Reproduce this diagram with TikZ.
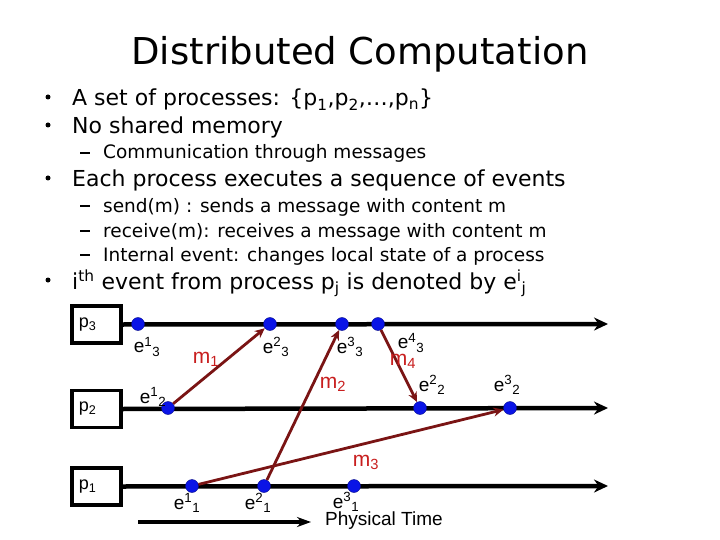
\documentclass[tikz,border=0pt]{standalone}
\usepackage{fontspec}
\setmainfont{Liberation Sans}
\newfontfamily\bodyfont{DejaVu Sans}
\usetikzlibrary{arrows.meta}
\definecolor{msg}{HTML}{7A1414}
\definecolor{msglabel}{HTML}{C81E1E}
\definecolor{dotblue}{HTML}{0A14E6}
\begin{document}
\begin{tikzpicture}[x=1pt,y=-1pt,
  procbox/.style={draw,line width=3.5pt,minimum width=49pt,minimum height=37pt,inner sep=0pt},
  procname/.style={font=\fontsize{18}{18}\selectfont,anchor=west},
  timeline/.style={line width=4.5pt,-{Stealth[length=14pt,width=13pt]}},
  ev/.style={circle,fill=dotblue,draw=dotblue!60!black,minimum size=13pt,inner sep=0pt},
  evlabel/.style={font=\fontsize{19}{19}\selectfont,inner sep=0pt},
  message/.style={draw=msg,line width=2.8pt,-{Stealth[length=10pt,width=9pt]}},
  mlabel/.style={text=msglabel,font=\fontsize{21}{21}\selectfont,inner sep=0pt},
  bdot/.style={circle,fill=black,minimum size=5pt,inner sep=0pt},
  sdash/.style={fill=black,minimum width=10pt,minimum height=1.6pt,inner sep=0pt},
  bullet/.style={anchor=base west,inner sep=0pt,font=\bodyfont\fontsize{22}{22}\selectfont},
  subbullet/.style={anchor=base west,inner sep=0pt,font=\bodyfont\fontsize{18.5}{18.5}\selectfont}]
\useasboundingbox (0,0) rectangle (720,540);
% title
\node[anchor=base,inner sep=0pt,font=\bodyfont\fontsize{37}{37}\selectfont] (title) at (360,65) {Distributed Computation};
% bullets
\node[bdot] (b1d) at (48,97) {};
\node[bullet] (b1) at (72,106) {A set of processes: \{p\textsubscript{1},p\textsubscript{2},…,p\textsubscript{n}\}};
\node[bdot] (b2d) at (48,125) {};
\node[bullet] (b2) at (72,134) {No shared memory};
\node[sdash] (s1d) at (85,153) {};
\node[subbullet] (s1) at (103,159) {Communication through messages};
\node[bdot] (b3d) at (48,178) {};
\node[bullet] (b3) at (72,187) {Each process executes a sequence of events};
\node[sdash] (s2d) at (85,206) {};
\node[subbullet] (s2) at (103,212) {send(m) : sends a message with content m};
\node[sdash] (s3d) at (85,231) {};
\node[subbullet] (s3) at (103,237) {receive(m): receives a message with content m};
\node[sdash] (s4d) at (85,255) {};
\node[subbullet] (s4) at (103,261) {Internal event: changes local state of a process};
\node[bdot] (b4d) at (48,280) {};
\node[bullet] (b4) at (72,289) {i\textsuperscript{th} event from process p\textsubscript{j} is denoted by e\textsuperscript{i}\textsubscript{j}};
% process boxes
\node[procbox] (p3) at (96.5,324.5) {};
\node[procname] at (p3.west) {\hspace{5pt}p\textsubscript{3}};
\node[procbox] (p2) at (96.5,409) {};
\node[procname] at (p2.west) {\hspace{5pt}p\textsubscript{2}};
\node[procbox] (p1) at (96.5,486.5) {};
\node[procname] at (p1.west) {\hspace{5pt}p\textsubscript{1}};
\coordinate (t3) at (608,324);
\coordinate (t2) at (608,408);
\coordinate (t1) at (608,486);
\draw[timeline] (p3.east) -- (t3);
\draw[timeline] (p2.east) -- (t2);
\draw[timeline] (p1.east) -- (t1);
% events
\node[ev] (e13) at (138,324) {};
\node[ev] (e23) at (270,324) {};
\node[ev] (e33) at (342,324) {};
\node[ev] (e43) at (378,324) {};
\node[ev] (e12) at (168,408) {};
\node[ev] (e22) at (420,408) {};
\node[ev] (e32) at (510,408) {};
\node[ev] (e11) at (192,486) {};
\node[ev] (e21) at (264,486) {};
\node[ev] (e31) at (354,486) {};
% messages
\draw[message] (e12) -- (e23);
\draw[message] (e21) -- (e33);
\draw[message] (e11) -- (e32);
\draw[message] (e43) -- (e22);
% event labels
\node[evlabel] (le13) at (147,347) {e\textsuperscript{1}\textsubscript{3}};
\node[evlabel] (le23) at (276,347) {e\textsuperscript{2}\textsubscript{3}};
\node[evlabel] (le33) at (350,347) {e\textsuperscript{3}\textsubscript{3}};
\node[evlabel] (le43) at (411,343) {e\textsuperscript{4}\textsubscript{3}};
\node[evlabel] (le12) at (153,397) {e\textsuperscript{1}\textsubscript{2}};
\node[evlabel] (le22) at (432,385) {e\textsuperscript{2}\textsubscript{2}};
\node[evlabel] (le32) at (507,385) {e\textsuperscript{3}\textsubscript{2}};
\node[evlabel] (le11) at (187,503) {e\textsuperscript{1}\textsubscript{1}};
\node[evlabel] (le21) at (258,503) {e\textsuperscript{2}\textsubscript{1}};
\node[evlabel] (le31) at (346,502) {e\textsuperscript{3}\textsubscript{1}};
% message labels
\node[mlabel] (lm1) at (206,359) {m\textsubscript{1}};
\node[mlabel] (lm2) at (333,384) {m\textsubscript{2}};
\node[mlabel] (lm3) at (366,462) {m\textsubscript{3}};
\node[mlabel] (lm4) at (403,361) {m\textsubscript{4}};
% physical time
\coordinate (pt0) at (138,522);
\coordinate (pt1) at (311,522);
\draw[line width=3.5pt,-{Stealth[length=14pt,width=10pt]}] (pt0) -- (pt1);
\node[anchor=west,inner sep=0pt,font=\fontsize{19}{19}\selectfont] (ptl) at (325,521) {Physical Time};
\end{tikzpicture}
\end{document}
